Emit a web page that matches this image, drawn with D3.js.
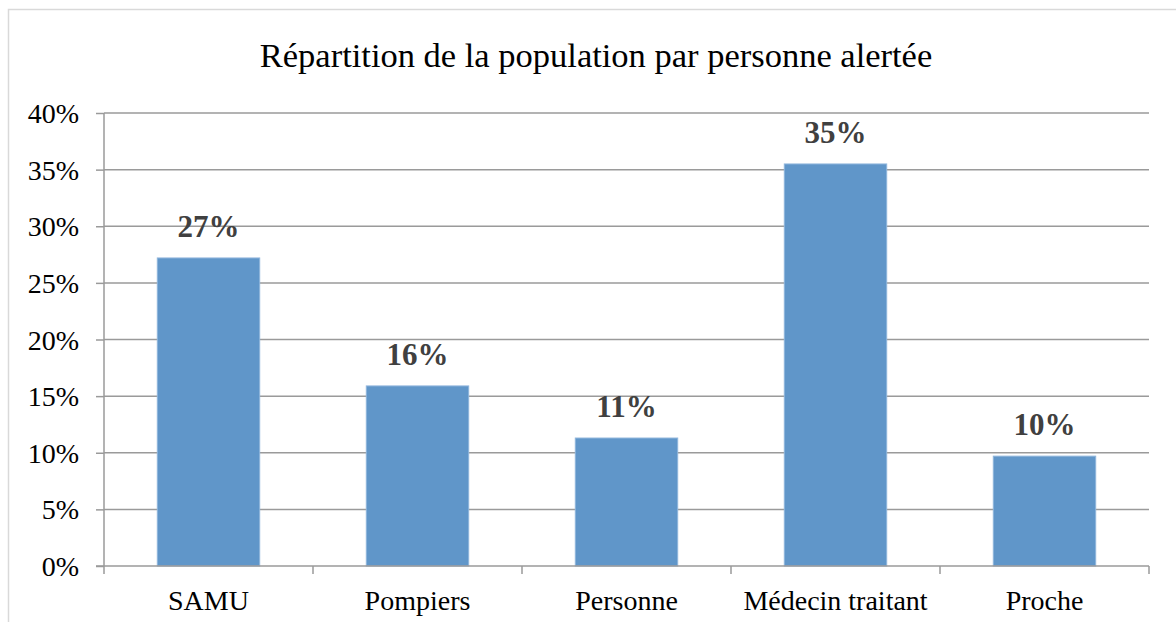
<!DOCTYPE html>
<html>
<head>
<meta charset="utf-8">
<script src="https://cdn.jsdelivr.net/npm/d3@7"></script>
<style>
  html, body { margin: 0; padding: 0; background: #ffffff; }
  svg { display: block; }
  text { font-family: "Liberation Serif", "DejaVu Serif", serif; }
</style>
</head>
<body>
<svg id="chart" width="1176" height="622"></svg>
<script>
const title = "Répartition de la population par personne alertée";
const categories = ["SAMU", "Pompiers", "Personne", "Médecin traitant", "Proche"];
const values = [0.272, 0.159, 0.113, 0.355, 0.097];
const valueLabels = ["27%", "16%", "11%", "35%", "10%"];
const yTicks = [0, 0.05, 0.10, 0.15, 0.20, 0.25, 0.30, 0.35, 0.40];

const W = 1176, H = 622;
const margin = { left: 104, right: 27, top: 113, bottom: 56 };
const svg = d3.select("#chart");

// outer chart border
svg.append("rect")
  .attr("x", 8.5).attr("y", 9.5)
  .attr("width", W + 20).attr("height", H + 20)
  .attr("fill", "none").attr("stroke", "#d9d9d9").attr("stroke-width", 1.5);

const x = d3.scaleBand()
  .domain(categories)
  .range([margin.left, W - margin.right])
  .paddingInner(0.51).paddingOuter(0.255);

const xBand = d3.scaleBand()
  .domain(categories)
  .range([margin.left, W - margin.right]);

const y = d3.scaleLinear()
  .domain([0, 0.4])
  .range([H - margin.bottom, margin.top]);

// gridlines
svg.append("g")
  .selectAll("line")
  .data(yTicks.filter(d => d > 0))
  .join("line")
  .attr("x1", margin.left).attr("x2", W - margin.right)
  .attr("y1", d => y(d)).attr("y2", d => y(d))
  .attr("stroke", "#9a9a9a").attr("stroke-width", 1.5);

// y axis
const yAxis = svg.append("g")
  .attr("transform", `translate(${margin.left},0)`)
  .call(d3.axisLeft(y).tickValues(yTicks).tickSize(8).tickPadding(17)
    .tickFormat(d3.format(".0%")));
yAxis.select(".domain").attr("stroke", "#9a9a9a").attr("stroke-width", 1.5)
  .attr("d", `M0,${y(0)}V${y(0.4)}`);
yAxis.selectAll(".tick line").attr("stroke", "#9a9a9a").attr("stroke-width", 1.5);
yAxis.selectAll(".tick text")
  .attr("font-family", "Liberation Serif, serif")
  .attr("font-size", 28).attr("fill", "#000")
  .attr("dy", "0.34em");

// bars
svg.append("g")
  .selectAll("rect")
  .data(values)
  .join("rect")
  .attr("x", (d, i) => x(categories[i]))
  .attr("y", d => y(d))
  .attr("width", x.bandwidth())
  .attr("height", d => y(0) - y(d))
  .attr("fill", "#6096c9")
  .attr("stroke", "#8fb5dc").attr("stroke-width", 1);

// x axis
const xAxis = svg.append("g")
  .attr("transform", `translate(0,${y(0)})`)
  .call(d3.axisBottom(xBand).tickSize(0).tickPadding(44));
xAxis.select(".domain").attr("stroke", "#9a9a9a").attr("stroke-width", 1.5)
  .attr("d", `M${margin.left - 8},0H${W - margin.right}`);
xAxis.selectAll(".tick text")
  .attr("font-family", "Liberation Serif, serif")
  .attr("font-size", 28).attr("fill", "#000")
  .attr("dy", 0);
// category boundary tick marks
const bounds = categories.map(c => xBand(c)).concat([W - margin.right]);
xAxis.append("g").selectAll("line")
  .data(bounds)
  .join("line")
  .attr("x1", d => d).attr("x2", d => d)
  .attr("y1", 0).attr("y2", 8)
  .attr("stroke", "#9a9a9a").attr("stroke-width", 1.5);

// data labels
svg.append("g")
  .selectAll("text")
  .data(values)
  .join("text")
  .attr("x", (d, i) => x(categories[i]) + x.bandwidth() / 2)
  .attr("y", d => y(d) - 21)
  .attr("text-anchor", "middle")
  .attr("font-weight", "bold")
  .attr("font-size", 31)
  .attr("fill", "#404040")
  .text((d, i) => valueLabels[i]);

// title
svg.append("text")
  .attr("x", 596).attr("y", 67)
  .attr("text-anchor", "middle")
  .attr("font-size", 34.5)
  .attr("fill", "#000")
  .text(title);
</script>
</body>
</html>
